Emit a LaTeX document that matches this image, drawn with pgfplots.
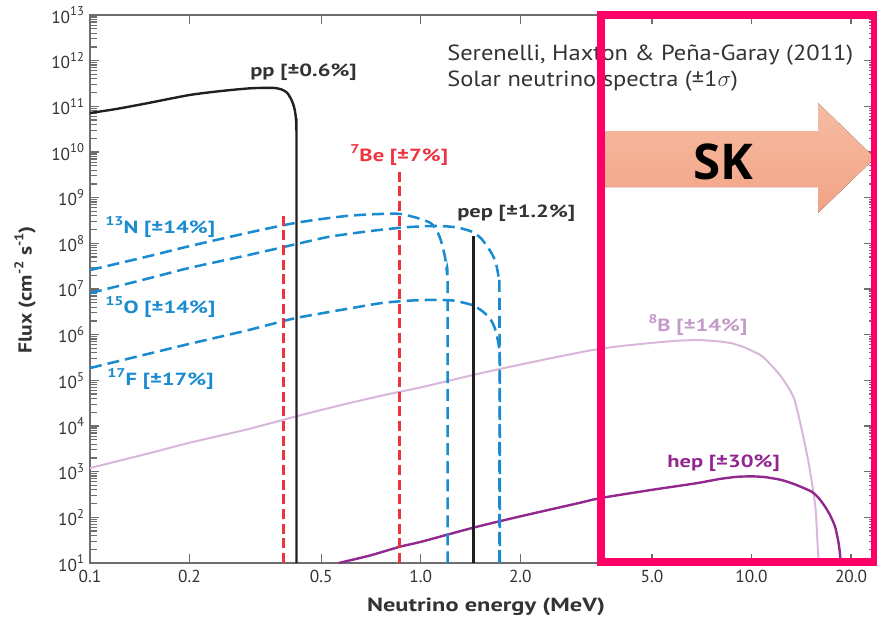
\documentclass[border=0pt]{standalone}
\usepackage{pgfplots}
\pgfplotsset{compat=1.18}
\usepackage{fontspec}
\setmainfont{PT Sans}[BoldFeatures={FakeStretch=1.28}]
\newfontfamily\titlefont{PT Sans}[FakeStretch=1.12]
\newfontfamily\ylabfont{PT Sans Bold}[FakeStretch=1.15]
\newfontfamily\skfont{Open Sans}

\definecolor{axisgrey}{HTML}{6E6E6E}
\definecolor{txtgrey}{HTML}{333333}
\definecolor{ppblack}{HTML}{231F20}
\definecolor{bered}{HTML}{EE3340}
\definecolor{cnoblue}{HTML}{1B8BD0}
\definecolor{bline}{HTML}{D8B7DB}
\definecolor{btext}{HTML}{C49BC8}
\definecolor{hepc}{HTML}{92278F}
\definecolor{skframe}{HTML}{FF0066}
\definecolor{arrowtop}{HTML}{F6BCA3}
\definecolor{arrowbot}{HTML}{F2A385}

\newcommand{\tensup}[1]{10\raisebox{0.42em}{\fontsize{9.5}{9.5}\selectfont #1}}
\newcommand{\sups}[1]{\raisebox{0.45em}{\fontsize{9.5}{9.5}\selectfont #1}}

% minor ticks at 2..9 x 10^k
\def\minorlist{1}
\foreach \e in {1,...,12}{\foreach \m in {2,...,9}{\xdef\minorlist{\minorlist,\m e\e}}}

\begin{document}
\begin{tikzpicture}
\useasboundingbox (0,0) rectangle (657.75pt,464.25pt);

% right-hand decade ticks only
\begin{axis}[
  at={(67.5pt,42pt)}, anchor=south west,
  scale only axis, width=587.25pt, height=411pt,
  xmode=log, ymode=log,
  xmin=0.1, xmax=23.3, ymin=10, ymax=1e13,
  tick align=inside,
  major tick length=7pt,
  tick style={draw=axisgrey, line width=0.9pt},
  ytick={1e1,1e2,1e3,1e4,1e5,1e6,1e7,1e8,1e9,1e10,1e11,1e12,1e13},
  axis line style={draw=none},
  ytick pos=right, yticklabels={}, minor ytick={},
  xtick=\empty, minor xtick={}]
\end{axis}

\begin{axis}[
  at={(67.5pt,42pt)}, anchor=south west,
  scale only axis, width=587.25pt, height=411pt,
  xmode=log, ymode=log,
  xmin=0.1, xmax=23.3, ymin=10, ymax=1e13,
  tick align=inside,
  major tick length=7pt, minor tick length=5pt,
  tick style={draw=axisgrey, line width=0.9pt},
  axis line style={draw=axisgrey, line width=1.3pt},
  xtick={0.1,0.2,0.5,1,2,5,10,20},
  xticklabels={0.1,0.2,0.5,1.0,2.0,5.0,10.0,20.0},
  minor xtick={},
  ytick={1e1,1e2,1e3,1e4,1e5,1e6,1e7,1e8,1e9,1e10,1e11,1e12,1e13},
  ytick pos=left,
  yticklabels={\tensup{1},\tensup{2},\tensup{3},\tensup{4},\tensup{5},\tensup{6},\tensup{7},\tensup{8},\tensup{9},\tensup{10},\tensup{11},\tensup{12},\tensup{13}},
  minor ytick/.expanded={\minorlist},
  ticklabel style={font=\fontsize{13}{13}\selectfont, text=txtgrey},
  xticklabel style={yshift=-2pt},
  yticklabel style={xshift=-1pt},
]
% 8B
\addplot[bline, line width=1.5pt, smooth, tension=0.35] coordinates {
 (0.1,1.2e3) (0.15,2.5e3) (0.2,4.3e3) (0.3,8.5e3) (0.43,1.7e4) (0.6,3.1e4)
 (0.8,5e4) (1.0,7e4) (1.4,1.25e5) (1.75,1.8e5) (2.5,3.1e5) (3.3,4.6e5)
 (4.0,5.6e5) (5.0,6.6e5) (6.0,7.4e5) (7.0,7.6e5) (8.0,7.1e5) (8.7,6.5e5)
 (9.5,5.3e5) (10.7,3.5e5) (11.5,2.1e5) (12.3,1.2e5) (13.0,6.5e4) (13.5,3.7e4)
 (14.2,8.1e3) (14.9,1.5e3) (15.6,170) (15.9,16) (16.0,10)};
% hep
\addplot[hepc, line width=1.8pt, smooth, tension=0.35] coordinates {
 (0.565,10) (0.7,14.5) (0.87,23) (1.0,29) (1.45,60) (2.0,105) (3.0,205)
 (3.5,265) (5.0,400) (6.8,557) (8.0,690) (9.0,770) (10.0,790) (11.0,760)
 (12.3,660) (13.5,530) (15.2,365) (16.0,260) (16.7,170) (17.3,110)
 (17.9,62) (18.3,30) (18.5,17) (18.6,10)};
% 13N
\addplot[cnoblue, line width=1.9pt, dash pattern=on 9pt off 4.5pt, smooth, tension=0.35] coordinates {
 (0.1,2.6e7) (0.15,5.2e7) (0.2,8.7e7) (0.3,1.7e8) (0.385,2.5e8) (0.43,2.9e8)
 (0.5,3.4e8) (0.6,4.0e8) (0.7,4.3e8) (0.8,4.45e8) (0.87,4.4e8) (0.95,3.8e8)
 (1.0,3.4e8) (1.07,2.8e8) (1.11,2.1e8) (1.14,1.4e8) (1.165,8.5e7)
 (1.185,4.8e7) (1.198,2.6e7) (1.205,1.2e7) (1.205,10)};
% 15O
\addplot[cnoblue, line width=1.9pt, dash pattern=on 9pt off 4.5pt, smooth, tension=0.35] coordinates {
 (0.1,8.1e6) (0.15,1.7e7) (0.2,2.9e7) (0.3,5.5e7) (0.385,8.3e7) (0.43,1.0e8)
 (0.53,1.4e8) (0.7,1.85e8) (0.87,2.2e8) (1.0,2.35e8) (1.1,2.4e8) (1.2,2.35e8)
 (1.3,2.2e8) (1.4,1.9e8) (1.45,1.7e8) (1.52,1.3e8) (1.59,8.5e7) (1.65,5.5e7)
 (1.69,3.5e7) (1.72,1.8e7) (1.73,8e6) (1.73,10)};
% 17F
\addplot[cnoblue, line width=1.9pt, dash pattern=on 9pt off 4.5pt, smooth, tension=0.35] coordinates {
 (0.1,1.86e5) (0.15,3.8e5) (0.2,6.3e5) (0.3,1.25e6) (0.385,2.0e6) (0.43,2.4e6)
 (0.55,3.3e6) (0.757,4.9e6) (0.9,5.5e6) (1.0,5.7e6) (1.12,5.8e6) (1.25,5.6e6)
 (1.35,5.0e6) (1.45,4.3e6) (1.55,3.1e6) (1.63,2.1e6) (1.68,1.3e6)
 (1.72,6e5) (1.735,2e5) (1.735,10)};
% 7Be lines
\addplot[bered, line width=1.9pt, dash pattern=on 7.5pt off 3.5pt] coordinates {(0.384,10) (0.384,4.9e8)};
\addplot[bered, line width=1.9pt, dash pattern=on 7.5pt off 3.5pt] coordinates {(0.862,10) (0.862,3.7e9)};
% pep line
\addplot[ppblack, line width=1.8pt] coordinates {(1.442,10) (1.442,1.44e8)};
% pp
\addplot[ppblack, line width=1.8pt, smooth, tension=0.45] coordinates {
 (0.1,7.15e10) (0.12,8.74e10) (0.15,1.18e11) (0.2,1.77e11) (0.25,2.17e11)
 (0.3,2.46e11) (0.33,2.53e11) (0.36,2.53e11) (0.38,2.34e11) (0.395,1.96e11)
 (0.408,1.31e11) (0.416,8.3e10) (0.42,4.5e10) (0.421,1e10) (0.421,10)};
\end{axis}

\begin{scope}[x=0.75pt, y=-0.75pt, yshift=464.25pt]
  % axis titles
  \node[font=\bfseries\fontsize{14.3}{14.3}\selectfont, text=txtgrey] at (486,607) {Neutrino energy (MeV)};
  \node[font=\ylabfont\fontsize{14}{14}\selectfont, text=txtgrey, rotate=90] at (25,290) {Flux (cm\sups{-2} s\sups{-1})};
  % source
  \node[anchor=west, inner sep=0pt, font=\titlefont\fontsize{16.4}{16.4}\selectfont, text=txtgrey] at (447,55) {Serenelli, Haxton \& Peña-Garay (2011)};
  \node[anchor=west, inner sep=0pt, font=\titlefont\fontsize{16.4}{16.4}\selectfont, text=txtgrey] at (447,81) {Solar neutrino spectra (±1$\sigma$)};
  % spectrum names
  \begin{scope}[every node/.style={anchor=west, font=\bfseries\fontsize{13.2}{13.2}\selectfont, inner sep=0pt}]
    \node[text=txtgrey] at (250,72) {pp [±0.6\%]};
    \node[text=bered] at (350,155) {\sups{7}Be [±7\%]};
    \node[text=txtgrey] at (457,213) {pep [±1.2\%]};
    \node[text=cnoblue] at (105,227) {\sups{13}N [±14\%]};
    \node[text=cnoblue] at (105,307) {\sups{15}O [±14\%]};
    \node[text=cnoblue] at (107,379) {\sups{17}F [±17\%]};
    \node[text=btext] at (648,325) {\sups{8}B [±14\%]};
    \node[text=hepc] at (667,463) {hep [±30\%]};
  \end{scope}
  % SK window
  \fill[top color=arrowtop, bottom color=arrowbot]
    (603,131) -- (818,131) -- (818,103) -- (875,158) -- (818,213) -- (818,187) -- (603,187) -- cycle;
  \node[font=\skfont\bfseries\fontsize{37}{37}\selectfont] at (723,162) {SK};
  \draw[skframe, line width=6pt] (601,15.5) rectangle (875,561.5);
\end{scope}
\end{tikzpicture}
\end{document}
